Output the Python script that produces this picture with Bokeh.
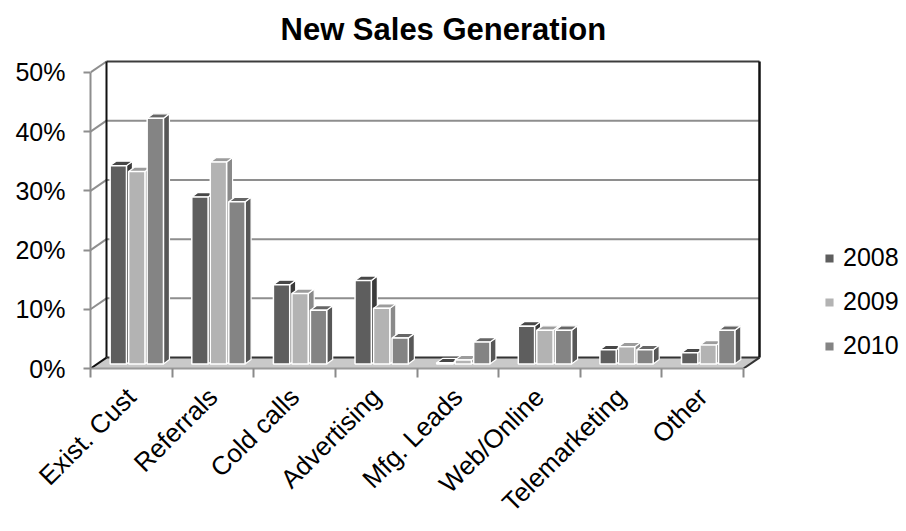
from math import pi
from bokeh.plotting import figure
from bokeh.models import FixedTicker, Range1d, Legend, LegendItem
from bokeh.embed import file_html
from bokeh.resources import INLINE

# ---------------- data ----------------
categories = ["Exist. Cust", "Referrals", "Cold calls", "Advertising",
              "Mfg. Leads", "Web/Online", "Telemarketing", "Other"]
years = ["2008", "2009", "2010"]
sales_2008 = [33.5, 28.2, 13.4, 14.1, 0.2, 6.4, 2.4, 1.9]
sales_2009 = [32.5, 34.1, 11.9, 9.4, 0.7, 5.7, 2.9, 3.2]
sales_2010 = [41.5, 27.4, 9.1, 4.4, 3.7, 5.7, 2.4, 5.7]
y_ticks = [0, 10, 20, 30, 40, 50]
y_tick_labels = ["0%", "10%", "20%", "30%", "40%", "50%"]

series = [sales_2008, sales_2009, sales_2010]
front_colors = ["#5e5e5e", "#b3b3b3", "#848484"]
side_colors = ["#3a3a3a", "#8a8a8a", "#575757"]
top_colors = ["#474747", "#9c9c9c", "#666666"]

FONT = "Liberation Sans"

# ------------- geometry (pixel -> data) -------------
PX_X = 81.625          # px per category
PX_Y = 5.96            # px per percent
LEFT, TOP, BOTTOM, W, H = 90, 56, 370, 906, 531
DX = 16 / PX_X         # depth of the box (x)
DY = 11 / PX_Y         # depth of the box (y)
OX = 5.5 / PX_X        # front face offset of bars
OY = 4.5 / PX_Y
SP = 18.5 / PX_X       # spacing between bars in a group
BW = 16.3 / PX_X       # bar width
BX = 6 / PX_X          # bar own depth
BY = 4.5 / PX_Y
n = len(categories)
x0, x1 = -0.5, n - 0.5

p = figure(width=W, height=H, output_backend="svg", toolbar_location=None,
           x_range=Range1d(x0, x0 + (W - LEFT) / PX_X),
           y_range=Range1d(0, (BOTTOM - TOP) / PX_Y),
           min_border_left=LEFT, min_border_right=0,
           min_border_top=TOP, min_border_bottom=H - BOTTOM)
p.outline_line_color = None
p.grid.visible = False
p.background_fill_color = "white"
p.border_fill_color = "white"

p.title.text = "New Sales Generation"
p.title.text_font = FONT
p.title.text_font_size = "31px"
p.title.text_font_style = "bold"
p.title.text_color = "black"
p.title.align = "left"
p.title.offset = 190
p.title.standoff = 19

# floor
p.patch([x0, x1, x1 + DX, x0 + DX], [0, 0, DY, DY],
        fill_color="#c9c9c9", line_color=None)

# back wall gridlines + left wall diagonals
top_v = y_ticks[-1]
for v in y_ticks:
    col = "#3c3c3c" if v == top_v else "#8e8e8e"
    if v > 0:
        p.line([x0 + DX, x1 + DX], [v + DY, v + DY], line_color=col, line_width=2)
    p.line([x0, x0 + DX], [v, v + DY],
           line_color=("#111111" if v == 0 else "#8e8e8e"), line_width=2)
# back-bottom edge
p.line([x0 + DX, x1 + DX], [DY, DY], line_color="#333333", line_width=2)
# back-left edge
p.line([x0 + DX, x0 + DX], [DY, top_v + DY], line_color="#111111", line_width=2)
# right edge
p.line([x1 + DX, x1 + DX], [DY, top_v + DY], line_color="#111111", line_width=2.5)
p.line([x1, x1 + DX], [0, DY], line_color="#333333", line_width=2)

# bars
legend_items = []
for j, vals in enumerate(series):
    fl, fr, fb, ft = [], [], [], []
    side_xs, side_ys, top_xs, top_ys = [], [], [], []
    for i, v in enumerate(vals):
        cx = i + OX + (j - 1) * SP
        a, b = cx - BW / 2, cx + BW / 2
        y0b, y1t = OY, OY + v
        fl.append(a); fr.append(b); fb.append(y0b); ft.append(y1t)
        side_xs.append([b, b + BX, b + BX, b])
        side_ys.append([y0b, y0b + BY, y1t + BY, y1t])
        top_xs.append([a, b, b + BX, a + BX])
        top_ys.append([y1t, y1t, y1t + BY, y1t + BY])
    p.patches(side_xs, side_ys, fill_color=side_colors[j], line_color="white", line_width=1.2)
    p.patches(top_xs, top_ys, fill_color=top_colors[j], line_color="white", line_width=1.2)
    r = p.quad(left=fl, right=fr, bottom=fb, top=ft,
               fill_color=front_colors[j], line_color="white", line_width=1.5)
    legend_items.append(LegendItem(label=years[j], renderers=[r]))

legend = Legend(items=legend_items, location=(733, 8),
                label_text_font=FONT, label_text_font_size="25px",
                label_text_color="black",
                glyph_width=12, glyph_height=12, label_standoff=8,
                spacing=15, padding=0, margin=0,
                border_line_color=None, background_fill_alpha=0)
p.add_layout(legend)

# y axis
ya = p.yaxis[0]
ya.ticker = FixedTicker(ticks=y_ticks)
ya.major_label_overrides = {t: s for t, s in zip(y_ticks, y_tick_labels)}
ya.bounds = (0, top_v)
ya.axis_line_color = "#8e8e8e"
ya.axis_line_width = 2
ya.major_tick_out = 7
ya.major_tick_in = 0
ya.major_tick_line_color = "#8e8e8e"
ya.major_tick_line_width = 2
ya.minor_tick_line_color = None
ya.major_label_standoff = 18
ya.major_label_text_font = FONT
ya.major_label_text_font_size = "25px"
ya.major_label_text_color = "black"

# x axis
xa = p.xaxis[0]
xa.ticker = FixedTicker(ticks=list(range(n)),
                        minor_ticks=[k - 0.5 for k in range(n + 1)])
xa.major_label_overrides = {i: c for i, c in enumerate(categories)}
xa.bounds = (x0, x1)
xa.axis_line_color = "#9a9a9a"
xa.axis_line_width = 2
xa.major_tick_out = 0
xa.major_tick_in = 0
xa.minor_tick_out = 9
xa.minor_tick_in = 0
xa.minor_tick_line_color = "#8a8a8a"
xa.minor_tick_line_width = 2
xa.major_label_orientation = pi / 4
xa.major_label_standoff = 15
xa.major_label_text_font = FONT
xa.major_label_text_font_size = "26px"
xa.major_label_text_color = "black"

open("out.html", "w").write(file_html(p, INLINE))
